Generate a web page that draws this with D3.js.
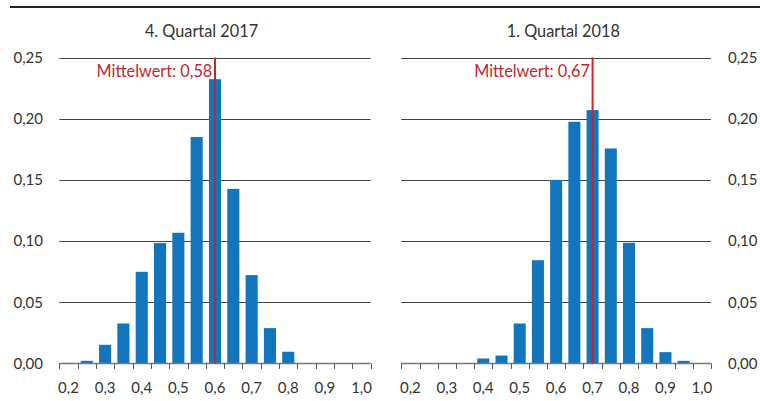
<!DOCTYPE html>
<html>
<head>
<meta charset="utf-8">
<script src="https://cdn.jsdelivr.net/npm/d3@7"></script>
<style>
  html, body { margin: 0; padding: 0; background: #fff; }
  svg { display: block; }
  text { font-family: Lato, "Open Sans", sans-serif; fill: #333; }
</style>
</head>
<body>
<svg id="chart" width="760" height="401"></svg>
<script>
// Bins (upper bin edge) of the distribution
const bins = ["0.2","0.25","0.3","0.35","0.4","0.45","0.5","0.55","0.6","0.65","0.7","0.75","0.8","0.85","0.9","0.95","1.0"];
// Share of observations per bin
const valuesQ4_2017 = [0.0005,0.0022,0.0153,0.0327,0.0749,0.0984,0.1068,0.185,0.2323,0.1427,0.0722,0.0289,0.0096,0.0003,0,0,0];
const valuesQ1_2018 = [0,0,0,0,0.0041,0.0065,0.0327,0.0844,0.150,0.1975,0.207,0.1757,0.0986,0.0289,0.0093,0.0022,0];
const titles = ["4. Quartal 2017", "1. Quartal 2018"];
const means = [0.58, 0.67];
const yTicks = [0, 0.05, 0.10, 0.15, 0.20, 0.25];
const xLabels = ["0.2","0.3","0.4","0.5","0.6","0.7","0.8","0.9","1.0"];

const svg = d3.select("#chart");
const fmt = (v, d) => d3.format("." + d + "f")(v).replace(".", ",");

// Top rule
svg.append("line").attr("x1", 10).attr("x2", 760).attr("y1", 7).attr("y2", 7)
  .attr("stroke", "#222").attr("stroke-width", 2.2);

const y = d3.scaleLinear().domain([0, 0.25]).range([363.5, 57.5]);

const panels = [
  { values: valuesQ4_2017, title: titles[0], mean: means[0], x0: 59.3, x1: 370.7, titleX: 201.5, axisSide: "left", axisX: 43 },
  { values: valuesQ1_2018, title: titles[1], mean: means[1], x0: 401.3, x1: 711, titleX: 563.3, axisSide: "right", axisX: 728 }
];

const barColor = "#1276be";
const red = "#c1272d";

panels.forEach(p => {
  const g = svg.append("g");
  const x = d3.scaleBand().domain(bins).range([p.x0, p.x1]).paddingInner(0.34).paddingOuter(0.17);

  // Title
  g.append("text").attr("x", p.titleX).attr("y", 36.5).attr("text-anchor", "middle")
    .style("font-size", "16.3px").text(p.title);

  // Horizontal gridlines (above zero)
  g.selectAll("line.grid").data(yTicks.filter(t => t > 0)).join("line")
    .attr("class", "grid")
    .attr("x1", p.x0).attr("x2", p.x1)
    .attr("y1", d => Math.round(y(d)) + 0.5).attr("y2", d => Math.round(y(d)) + 0.5)
    .attr("stroke", "#444").attr("stroke-width", 1);

  // Value axis labels
  g.selectAll("text.ytick").data(yTicks).join("text")
    .attr("class", "ytick")
    .attr("x", p.axisX)
    .attr("y", d => y(d))
    .attr("dy", "0.35em")
    .attr("text-anchor", p.axisSide === "left" ? "end" : "start")
    .style("font-size", "15px")
    .text(d => fmt(d, 2));

  // Bars
  g.selectAll("rect.bar").data(bins.map((b, i) => ({ b, v: p.values[i] }))).join("rect")
    .attr("class", "bar")
    .attr("x", d => x(d.b))
    .attr("width", x.bandwidth())
    .attr("y", d => y(d.v))
    .attr("height", d => y(0) - y(d.v))
    .attr("fill", barColor);

  // Category axis: baseline, ticks at bin boundaries, labels every other bin
  const step = (p.x1 - p.x0) / bins.length;
  const base = y(0);
  g.append("line").attr("x1", p.x0).attr("x2", p.x1).attr("y1", base).attr("y2", base)
    .attr("stroke", "#777").attr("stroke-width", 1.3);
  g.selectAll("line.xtick").data(d3.range(bins.length + 1)).join("line")
    .attr("class", "xtick")
    .attr("x1", i => Math.round(p.x0 + i * step) + 0.5).attr("x2", i => Math.round(p.x0 + i * step) + 0.5)
    .attr("y1", base).attr("y2", base + 5.5)
    .attr("stroke", "#555").attr("stroke-width", 1);
  g.selectAll("text.xlab").data(xLabels).join("text")
    .attr("class", "xlab")
    .attr("x", d => x(d) + x.bandwidth() / 2)
    .attr("y", 393)
    .attr("text-anchor", "middle")
    .style("font-size", "15px")
    .text(d => fmt(+d, 1));

  // Mean marker, drawn in the bin that contains the mean
  const meanBin = bins.find(b => +b >= p.mean - 1e-9 && +b - 0.05 < p.mean);
  const mx = x(meanBin) + x.bandwidth() / 2;
  g.append("line").attr("x1", mx).attr("x2", mx).attr("y1", y(0.25)).attr("y2", base)
    .attr("stroke", red).attr("stroke-width", 2);
  g.append("text").attr("x", mx - 2.7).attr("y", 77)
    .attr("text-anchor", "end")
    .style("font-size", "16.3px").style("fill", red)
    .text("Mittelwert: " + fmt(p.mean, 2));
});
</script>
</body>
</html>
